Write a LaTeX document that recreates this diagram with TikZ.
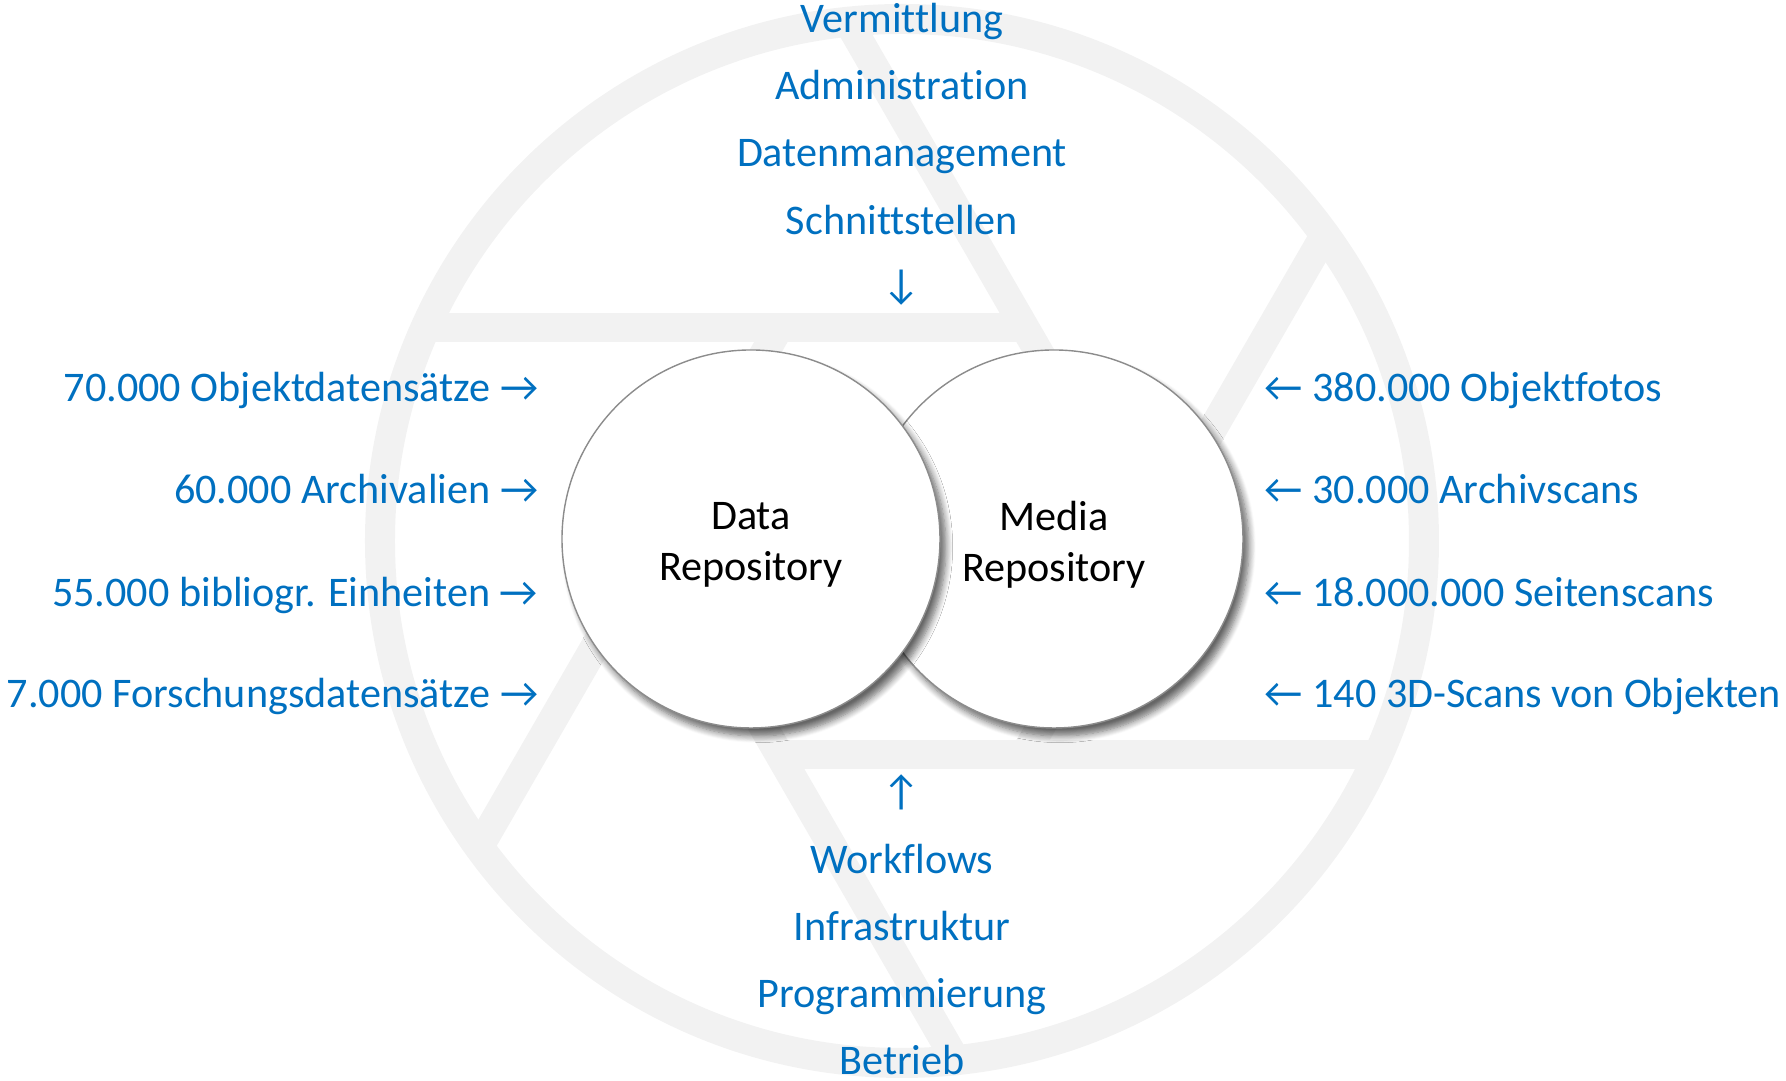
\documentclass[tikz,border=0pt]{standalone}
\usepackage{fontspec}
\setmainfont{Carlito}[Ligatures={NoCommon}]
\usepackage{xcolor}
\usetikzlibrary{positioning,shadows.blur}
\definecolor{mblue}{RGB}{0,112,192}
\definecolor{blade}{RGB}{242,242,242}
\begin{document}
\begin{tikzpicture}[
  font=\fontsize{12}{14.6}\selectfont,
  ring/.style={draw=blade, line width=0.30cm},
  vane/.style={draw=blade, line width=0.29cm},
  repo/.style={circle, draw=gray!90, line width=0.4pt, fill=white, minimum size=3.78cm, inner sep=0pt,
    blur shadow={shadow xshift=0.06cm, shadow yshift=-0.08cm, shadow blur steps=8, shadow opacity=60},
    label={[align=center, yshift=-0.06cm]center:#1}},
  lbl/.style={text=mblue, inner sep=0pt},
  lft/.style={lbl, anchor=base east},
  rgt/.style={lbl, anchor=base west},
  mid/.style={lbl, anchor=base},
]
\useasboundingbox (-9.02,-5.40) rectangle (8.84,5.41);
% ================= APERTURE =================
\draw[ring] (0,0) circle (5.22);
\begin{scope}
\clip (0,0) circle (5.22);
\foreach \i in {0,...,5}
  \draw[vane] ({60-60*\i}:2.46) -- ++({180-60*\i}:7);
\end{scope}
% ================= REPOSITORIES =================
\node[repo={Media\\Repository}] (media) at (1.52,0.02) {};
\node[repo={Data\\Repository}] (data) at (-1.51,0.02) {};
% ================= TOP =================
\node[mid] (verm) at (0,5.08) {Vermittlung};
\node[mid] (admin) at (0,4.41) {Administration};
\node[mid] (dm) at (0,3.74) {Datenmanagement};
\node[mid] (sst) at (0,3.06) {Schnittstellen};
\node[lbl] (dn) at (0,2.53) {↓};
% ================= BOTTOM =================
\node[lbl] (up) at (0,-2.51) {↑};
\node[mid] (wf) at (0,-3.33) {Workflows};
\node[mid] (inf) at (0,-4.00) {Infrastruktur};
\node[mid] (prog) at (0,-4.67) {Programmierung};
\node[mid] (betr) at (0,-5.34) {Betrieb};
% ================= LEFT =================
\node[lft] (obj) at (-3.63,1.39) {70.000 Objektdatensätze →};
\node[lft] (arch) at (-3.63,0.37) {60.000 Archivalien →};
\node[lft] (bib) at (-3.63,-0.66) {55.000 bibliogr. Einheiten →};
\node[lft] (fd) at (-3.63,-1.67) {7.000 Forschungsdatensätze →};
% ================= RIGHT =================
\node[rgt] (foto) at (3.62,1.39) {← 380.000 Objektfotos};
\node[rgt] (ascan) at (3.62,0.37) {← 30.000 Archivscans};
\node[rgt] (sscan) at (3.62,-0.66) {← 18.000.000 Seitenscans};
\node[rgt] (dscan) at (3.62,-1.67) {← 140 3D-Scans von Objekten};
\end{tikzpicture}
\end{document}
